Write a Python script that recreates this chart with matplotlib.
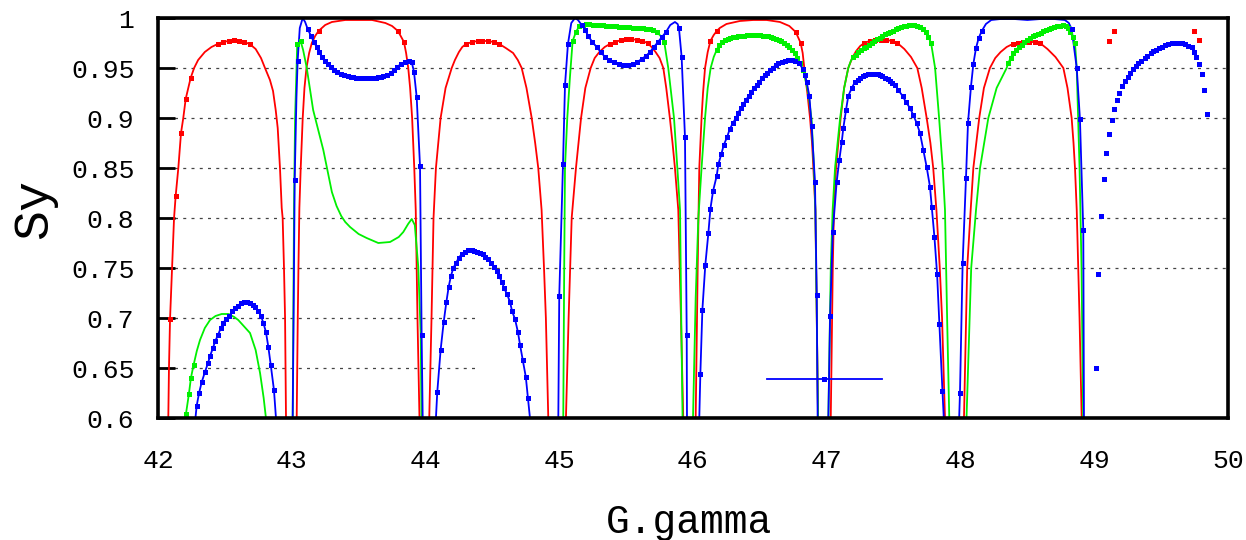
import numpy as np
import matplotlib
matplotlib.use('Agg')
import matplotlib.pyplot as plt
from matplotlib.lines import Line2D

plt.rcParams['font.family'] = ['Liberation Mono', 'DejaVu Sans Mono']

# ---------------- data ----------------
x_ticks = [42, 43, 44, 45, 46, 47, 48, 49, 50]
y_ticks = [0.6, 0.65, 0.7, 0.75, 0.8, 0.85, 0.9, 0.95, 1.0]
y_tick_labels = ['0.6', '0.65', '0.7', '0.75', '0.8', '0.85', '0.9', '0.95', '1']
grid_y = [0.65, 0.7, 0.75, 0.8, 0.85, 0.9, 0.95]
grid_end = [44.37, 44.37, 50, 50, 50, 50, 50]

# red: line-only points, sampled points on the line, loose points
red_curve_x = [42.077, 42.082, 42.105, 42.12, 42.152, 42.189, 42.27, 42.30, 42.35, 42.40,
               42.73, 42.77, 42.80, 42.837, 42.86, 42.88, 42.895, 42.912, 42.925, 42.932, 42.942,
               42.95, 42.957,
               43.037, 43.045, 43.05, 43.057, 43.067, 43.082, 43.095, 43.11, 43.13, 43.15, 43.175,
               43.25, 43.3, 43.4, 43.5, 43.6, 43.7, 43.75, 43.855, 43.871, 43.885, 43.90, 43.916,
               43.927, 43.94, 43.955,
               44.028, 44.045, 44.06, 44.078, 44.113, 44.15, 44.196, 44.22, 44.25, 44.275, 44.60,
               44.655, 44.69, 44.719, 44.755, 44.794, 44.82, 44.843, 44.868, 44.886, 44.90, 44.918,
               45.05, 45.07, 45.093, 45.125, 45.163, 45.195, 45.235, 45.265, 45.30, 45.34, 45.69,
               45.72, 45.75, 45.778, 45.80, 45.827, 45.847, 45.865, 45.89, 45.91, 45.927,
               46.02, 46.035, 46.047, 46.064, 46.075, 46.09, 46.11, 46.155, 46.2, 46.25, 46.35,
               46.45, 46.55, 46.65, 46.72, 46.82, 46.832, 46.855, 46.875, 46.89, 46.90, 46.915,
               46.925, 46.935,
               47.03, 47.045, 47.054, 47.069, 47.104, 47.13, 47.161, 47.19, 47.22, 47.25, 47.58,
               47.63, 47.677, 47.71, 47.747, 47.775, 47.796, 47.82, 47.845, 47.862, 47.884,
               48.026, 48.05, 48.076, 48.096, 48.14, 48.175, 48.22, 48.26, 48.30, 48.345, 48.65,
               48.71, 48.769, 48.80, 48.831, 48.845, 48.856, 48.869, 48.89, 48.906]
red_curve_y = [0.60, 0.65, 0.75, 0.80, 0.85, 0.90, 0.95, 0.958, 0.966, 0.971,
               0.969, 0.960, 0.950, 0.938, 0.927, 0.908, 0.89, 0.85, 0.81, 0.80, 0.75,
               0.70, 0.60,
               0.60, 0.70, 0.75, 0.81, 0.85, 0.90, 0.93, 0.95, 0.965, 0.975, 0.982,
               0.993, 0.996, 0.998, 0.998, 0.998, 0.995, 0.992, 0.965, 0.95, 0.93, 0.90, 0.85,
               0.808, 0.70, 0.60,
               0.60, 0.70, 0.80, 0.85, 0.90, 0.93, 0.95, 0.958, 0.966, 0.971, 0.970,
               0.965, 0.958, 0.95, 0.93, 0.90, 0.875, 0.85, 0.808, 0.75, 0.70, 0.60,
               0.60, 0.70, 0.80, 0.85, 0.90, 0.93, 0.95, 0.96, 0.966, 0.971, 0.971,
               0.966, 0.96, 0.95, 0.93, 0.90, 0.875, 0.85, 0.808, 0.70, 0.60,
               0.60, 0.75, 0.85, 0.90, 0.925, 0.95, 0.966, 0.983, 0.99, 0.994, 0.997,
               0.998, 0.998, 0.996, 0.992, 0.965, 0.95, 0.925, 0.90, 0.875, 0.85, 0.808,
               0.70, 0.60,
               0.60, 0.75, 0.808, 0.85, 0.90, 0.93, 0.95, 0.96, 0.967, 0.972, 0.969,
               0.961, 0.95, 0.93, 0.90, 0.875, 0.85, 0.808, 0.75, 0.70, 0.60,
               0.60, 0.75, 0.808, 0.85, 0.90, 0.93, 0.95, 0.96, 0.966, 0.971, 0.969,
               0.961, 0.95, 0.93, 0.90, 0.875, 0.85, 0.808, 0.70, 0.60]
red_mark_x = [42.09, 42.132, 42.172, 42.207, 42.244, 42.446, 42.484, 42.528, 42.568, 42.606, 42.643, 42.686,
              43.2, 43.794, 43.839,
              44.303, 44.35, 44.39, 44.425, 44.465, 44.51, 44.552,
              45.379, 45.42, 45.462, 45.50, 45.54, 45.58, 45.62, 45.66,
              46.13, 46.178, 46.768, 46.805,
              47.281, 47.32, 47.36, 47.405, 47.445, 47.49, 47.528,
              48.39, 48.432, 48.47, 48.515, 48.557, 48.594]
red_mark_y = [0.699, 0.822, 0.885, 0.919, 0.940, 0.974, 0.976, 0.977, 0.978, 0.977, 0.976, 0.974,
              0.987, 0.987, 0.976,
              0.974, 0.976, 0.977, 0.977, 0.977, 0.976, 0.974,
              0.974, 0.976, 0.978, 0.979, 0.979, 0.978, 0.977, 0.975,
              0.977, 0.987, 0.986, 0.975,
              0.975, 0.977, 0.978, 0.978, 0.978, 0.977, 0.975,
              0.974, 0.975, 0.976, 0.976, 0.976, 0.975]
red_loose_x = [49.11, 49.148, 49.746, 49.783]
red_loose_y = [0.977, 0.987, 0.987, 0.978]

# green
green_curve_x = [42.205, 42.29, 42.314, 42.35, 42.389, 42.43, 42.476, 42.526, 42.57, 42.60, 42.688,
                 42.73, 42.763, 42.79, 42.807,
                 43.007, 43.012, 43.017, 43.025, 43.085, 43.111, 43.16, 43.236, 43.30, 43.335, 43.37,
                 43.40, 43.436, 43.50, 43.56, 43.647, 43.735, 43.80, 43.834, 43.87, 43.897, 43.92,
                 43.946, 43.964, 43.97,
                 45.03, 45.037, 45.043, 45.06, 45.08, 45.815, 45.858, 45.883, 45.903, 45.912, 45.922,
                 46.0, 46.02, 46.04, 46.064, 46.09, 46.11, 46.132, 46.155, 46.862, 46.887, 46.904,
                 46.915, 46.925, 46.935,
                 47.012, 47.03, 47.044, 47.062, 47.10, 47.13, 47.161, 47.18, 47.81, 47.84, 47.867,
                 47.884, 47.90, 47.916,
                 48.045, 48.08, 48.116, 48.146, 48.208, 48.27, 48.345, 48.869, 48.89, 48.905, 48.917]
green_curve_y = [0.60, 0.667, 0.678, 0.690, 0.698, 0.702, 0.704, 0.704, 0.701, 0.698, 0.685,
                 0.668, 0.645, 0.62, 0.60,
                 0.60, 0.70, 0.81, 0.90, 0.968, 0.951, 0.908, 0.868, 0.826, 0.812, 0.802,
                 0.796, 0.791, 0.784, 0.780, 0.775, 0.776, 0.781, 0.786, 0.794, 0.799, 0.793,
                 0.751, 0.685, 0.60,
                 0.60, 0.75, 0.851, 0.90, 0.941, 0.95, 0.90, 0.85, 0.808, 0.70, 0.60,
                 0.60, 0.72, 0.80, 0.85, 0.90, 0.93, 0.95, 0.961, 0.925, 0.898, 0.851,
                 0.808, 0.70, 0.60,
                 0.60, 0.75, 0.808, 0.85, 0.90, 0.93, 0.95, 0.957, 0.95, 0.90, 0.85,
                 0.808, 0.70, 0.60,
                 0.60, 0.75, 0.808, 0.85, 0.90, 0.93, 0.95, 0.95, 0.85, 0.75, 0.60]
green_mark_x = [42.209, 42.231, 42.246, 42.266,
                43.041, 43.066,
                45.10, 45.125, 45.15, 45.175, 45.20, 45.225, 45.25, 45.275, 45.30, 45.325, 45.35,
                45.375, 45.40, 45.425, 45.45, 45.475, 45.50, 45.525, 45.55, 45.575, 45.60, 45.625,
                45.65, 45.675, 45.70, 45.73, 45.765, 45.785,
                46.177, 46.196, 46.22, 46.24, 46.26, 46.28, 46.30, 46.32, 46.34, 46.36, 46.38, 46.40,
                46.42, 46.44, 46.46, 46.48, 46.50, 46.52, 46.54, 46.56, 46.58, 46.60, 46.62, 46.64,
                46.66, 46.68, 46.70, 46.72, 46.74, 46.76, 46.78, 46.80, 46.824,
                47.198, 47.217, 47.236, 47.255, 47.275, 47.295, 47.315, 47.335, 47.355, 47.375,
                47.395, 47.415, 47.435, 47.455, 47.475, 47.495, 47.515, 47.535, 47.555, 47.575,
                47.595, 47.615, 47.635, 47.655, 47.675, 47.70, 47.72, 47.741, 47.76, 47.78,
                48.357, 48.375, 48.394, 48.415, 48.435, 48.457, 48.478, 48.50, 48.52, 48.54, 48.56,
                48.58, 48.60, 48.62, 48.64, 48.66, 48.68, 48.70, 48.72, 48.744, 48.765, 48.789,
                48.805, 48.82, 48.84, 48.856]
green_mark_y = [0.604, 0.624, 0.640, 0.653,
                0.974, 0.977,
                0.977, 0.986, 0.992, 0.993, 0.994, 0.994, 0.993, 0.993, 0.993, 0.993, 0.992,
                0.992, 0.992, 0.992, 0.991, 0.991, 0.991, 0.991, 0.990, 0.990, 0.990, 0.990,
                0.989, 0.989, 0.988, 0.986, 0.981, 0.976,
                0.968, 0.973, 0.976, 0.978, 0.979, 0.980, 0.981, 0.981, 0.982, 0.982, 0.982, 0.983,
                0.983, 0.983, 0.983, 0.983, 0.983, 0.982, 0.982, 0.982, 0.981, 0.980, 0.979, 0.978,
                0.977, 0.975, 0.973, 0.971, 0.968, 0.965, 0.960, 0.955, 0.948,
                0.961, 0.963, 0.966, 0.968, 0.970, 0.971, 0.973, 0.975, 0.977, 0.979,
                0.980, 0.982, 0.984, 0.985, 0.986, 0.987, 0.989, 0.990, 0.991, 0.992,
                0.992, 0.993, 0.993, 0.993, 0.992, 0.991, 0.989, 0.986, 0.981, 0.975,
                0.955, 0.960, 0.965, 0.968, 0.971, 0.973, 0.976, 0.978, 0.980, 0.982, 0.983,
                0.984, 0.985, 0.987, 0.988, 0.989, 0.990, 0.991, 0.992, 0.992, 0.993, 0.992,
                0.990, 0.986, 0.981, 0.975]

# blue
blue_curve_x = [42.28, 42.882,
                43.007, 43.015, 43.035, 43.06, 43.082, 43.10, 43.979,
                44.078, 44.781,
                44.993, 45.09, 45.118, 45.14, 45.83, 45.865, 45.885, 45.955,
                46.047, 46.932,
                47.012, 47.875,
                47.99, 48.19, 48.23, 48.30, 48.40, 48.50, 48.60, 48.70, 48.78, 48.81, 48.923]
blue_curve_y = [0.60, 0.60,
                0.60, 0.72, 0.92, 0.99, 1.0, 0.996, 0.60,
                0.60, 0.60,
                0.60, 0.995, 1.0, 0.998, 0.993, 0.996, 0.994, 0.60,
                0.60, 0.60,
                0.60, 0.60,
                0.60, 0.994, 0.998, 0.999, 0.999, 0.998, 0.999, 0.999, 0.998, 0.995, 0.60]
blue_mark_x = [42.289, 42.307, 42.327, 42.351, 42.374, 42.389, 42.411, 42.428, 42.449, 42.469,
               42.488, 42.508, 42.533, 42.556, 42.576, 42.596, 42.621, 42.645, 42.668, 42.688,
               42.708, 42.728, 42.75, 42.77, 42.788, 42.807, 42.825, 42.843, 42.867,
               43.022, 43.044, 43.119, 43.144, 43.166, 43.186, 43.206, 43.224, 43.246, 43.269,
               43.291, 43.316, 43.341, 43.366, 43.393, 43.423, 43.44, 43.46, 43.48, 43.498, 43.515,
               43.535, 43.553, 43.572, 43.59, 43.61, 43.628, 43.647, 43.667, 43.685, 43.714, 43.74,
               43.764, 43.789, 43.815, 43.847, 43.879, 43.897, 43.914, 43.934, 43.959, 43.971,
               44.088, 44.113, 44.136, 44.156, 44.173, 44.19, 44.208, 44.228, 44.248, 44.271,
               44.295, 44.32, 44.345, 44.365, 44.387, 44.407, 44.428, 44.447, 44.47, 44.488,
               44.512, 44.532, 44.55, 44.572, 44.587, 44.609, 44.632, 44.647, 44.669, 44.691,
               44.707, 44.727, 44.75, 44.766,
               45.0, 45.028, 45.043, 45.065, 45.168, 45.193, 45.217, 45.247, 45.28, 45.31,
               45.342, 45.374, 45.409, 45.444, 45.479, 45.514, 45.549, 45.584, 45.616, 45.648,
               45.678, 45.708, 45.738, 45.768, 45.798, 45.895, 45.915, 45.94, 45.953,
               46.055, 46.07, 46.092, 46.115, 46.13, 46.15, 46.177, 46.19, 46.212, 46.23,
               46.255, 46.275, 46.30, 46.32, 46.338, 46.358, 46.376, 46.396, 46.416, 46.436,
               46.456, 46.476, 46.496, 46.516, 46.536, 46.556, 46.576, 46.596, 46.618, 46.638,
               46.663, 46.688, 46.713, 46.738, 46.763, 46.795, 46.82, 46.837, 46.85, 46.87,
               46.887, 46.912, 46.925,
               47.025, 47.045, 47.074, 47.094, 47.112, 47.124, 47.144, 47.161, 47.187, 47.211,
               47.23, 47.249, 47.268, 47.286, 47.305, 47.323, 47.342, 47.361, 47.38, 47.398,
               47.416, 47.435, 47.455, 47.473, 47.49, 47.51, 47.535, 47.567, 47.592, 47.622,
               47.647, 47.672, 47.697, 47.722, 47.747, 47.772, 47.785, 47.805, 47.825, 47.842,
               47.865,
               47.996, 48.016, 48.041, 48.056, 48.078, 48.096, 48.116, 48.136, 48.159,
               48.831, 48.869, 48.893, 48.918]
blue_mark_y = [0.612, 0.625, 0.636, 0.646, 0.655, 0.662, 0.670, 0.677, 0.683, 0.690,
               0.695, 0.699, 0.702, 0.707, 0.710, 0.712, 0.715, 0.716, 0.716, 0.715,
               0.713, 0.711, 0.707, 0.702, 0.695, 0.686, 0.671, 0.653, 0.628,
               0.838, 0.957, 0.989, 0.982, 0.976, 0.971, 0.966, 0.961, 0.957, 0.954,
               0.951, 0.948, 0.946, 0.944, 0.943, 0.942, 0.941, 0.941, 0.940, 0.940, 0.940,
               0.940, 0.940, 0.940, 0.940, 0.940, 0.940, 0.941, 0.941, 0.942, 0.943, 0.945,
               0.948, 0.951, 0.954, 0.956, 0.957, 0.956, 0.946, 0.921, 0.852, 0.683,
               0.626, 0.668, 0.696, 0.716, 0.731, 0.742, 0.750, 0.755, 0.760, 0.764,
               0.766, 0.768, 0.768, 0.767, 0.766, 0.765, 0.764, 0.761, 0.759, 0.755,
               0.751, 0.747, 0.742, 0.736, 0.730, 0.724, 0.716, 0.707, 0.699, 0.686,
               0.673, 0.658, 0.641, 0.620,
               0.722, 0.854, 0.933, 0.974, 0.993, 0.988, 0.982, 0.976, 0.971, 0.966,
               0.961, 0.958, 0.956, 0.954, 0.953, 0.953, 0.954, 0.956, 0.959, 0.962,
               0.966, 0.971, 0.976, 0.981, 0.986, 0.990, 0.961, 0.881, 0.683,
               0.644, 0.708, 0.753, 0.785, 0.809, 0.827, 0.842, 0.854, 0.864, 0.873,
               0.881, 0.889, 0.895, 0.900, 0.905, 0.910, 0.914, 0.918, 0.922, 0.926,
               0.930, 0.933, 0.936, 0.940, 0.943, 0.945, 0.948, 0.950, 0.953, 0.955,
               0.956, 0.957, 0.958, 0.958, 0.957, 0.955, 0.949, 0.943, 0.936, 0.922,
               0.892, 0.836, 0.723,
               0.702, 0.786, 0.836, 0.858, 0.876, 0.890, 0.908, 0.922, 0.930, 0.936,
               0.938, 0.940, 0.942, 0.943, 0.944, 0.944, 0.944, 0.944, 0.944, 0.943,
               0.942, 0.940, 0.939, 0.937, 0.935, 0.933, 0.928, 0.922, 0.916, 0.910,
               0.903, 0.895, 0.885, 0.868, 0.851, 0.831, 0.811, 0.781, 0.744, 0.694,
               0.627,
               0.625, 0.755, 0.840, 0.895, 0.931, 0.954, 0.970, 0.980, 0.987,
               0.989, 0.950, 0.899, 0.788]
blue_loose_x = [49.01, 49.028, 49.05, 49.071, 49.085, 49.11, 49.133, 49.148, 49.17, 49.185,
                49.21, 49.23, 49.25, 49.267, 49.287, 49.31, 49.33, 49.35, 49.38, 49.397,
                49.422, 49.442, 49.462, 49.484, 49.504, 49.529, 49.554, 49.579, 49.604, 49.629,
                49.654, 49.679, 49.704, 49.729, 49.746, 49.761, 49.781, 49.803, 49.821, 49.84]
blue_loose_y = [0.650, 0.744, 0.802, 0.839, 0.865, 0.884, 0.898, 0.909, 0.918, 0.925,
                0.932, 0.937, 0.941, 0.945, 0.949, 0.952, 0.955, 0.957, 0.960, 0.962,
                0.965, 0.967, 0.968, 0.970, 0.971, 0.973, 0.974, 0.975, 0.975, 0.975,
                0.975, 0.974, 0.972, 0.971, 0.966, 0.961, 0.954, 0.944, 0.928, 0.904]


def join_curve(cx, cy, mx, my, floor=0.6):
    # merge line-only and sampled points, break the line between two floor points
    x = np.concatenate([cx, mx])
    y = np.concatenate([cy, my])
    order = np.argsort(x, kind='stable')
    x, y = x[order], y[order]
    xs, ys = [x[0]], [y[0]]
    for i in range(1, len(x)):
        if y[i - 1] <= floor and y[i] <= floor:
            xs.append(np.nan)
            ys.append(np.nan)
        xs.append(x[i])
        ys.append(y[i])
    return xs, ys


fig = plt.figure(figsize=(12.46, 5.40), dpi=100)
ax = fig.add_axes([158 / 1246, 1 - 418 / 540, 1070 / 1246, 400 / 540])

ax.hlines(grid_y, 42, grid_end, colors='#444444', linestyles=(0, (2.4, 4.2)),
          linewidth=0.9, zorder=1)

series = [
    ('#ff0000', red_curve_x, red_curve_y, red_mark_x, red_mark_y, red_loose_x, red_loose_y),
    ('#00f000', green_curve_x, green_curve_y, green_mark_x, green_mark_y, [], []),
    ('#0000ff', blue_curve_x, blue_curve_y, blue_mark_x, blue_mark_y, blue_loose_x, blue_loose_y),
]
for color, cx, cy, mx, my, lx, ly in series:
    lx_all, ly_all = join_curve(cx, cy, mx, my)
    ax.plot(lx_all, ly_all, color=color, lw=1.3, zorder=2)
    ax.plot(mx, my, ls='none', marker='s', ms=3.6, mew=0, color=color, zorder=3)
    if lx:
        ax.plot(lx, ly, ls='none', marker='s', ms=3.6, mew=0, color=color, zorder=3)

# key sample of the blue series (empty title)
key_handle = Line2D([], [], color='#0000ff', lw=1.3, marker='s', ms=3.6, mew=0)
ax.legend([key_handle], [''], loc='center left', bbox_to_anchor=(46.55, 0.638),
          bbox_transform=ax.transData, frameon=False, handlelength=8.3,
          handletextpad=0, borderpad=0, borderaxespad=0, numpoints=1)

ax.set_xlim(42, 50)
ax.set_ylim(0.6, 1.0)
ax.set_xticks(x_ticks)
ax.set_xticklabels([str(t) for t in x_ticks])
ax.set_yticks(y_ticks)
ax.set_yticklabels(y_tick_labels)
ax.tick_params(axis='x', length=0, pad=22, labelsize=19)
ax.tick_params(axis='y', direction='in', length=12, width=2, pad=17, labelsize=19)

for sp in ax.spines.values():
    sp.set_linewidth(2.6)
    sp.set_zorder(5)

ax.set_xlabel('G.gamma', fontsize=28.5)
ax.xaxis.set_label_coords((689 - 158) / 1070, -0.2125)
ax.set_ylabel('Sy', fontsize=36)
ax.yaxis.set_label_coords(-0.094, 0.5225)

fig.savefig('out.png', dpi=100)
